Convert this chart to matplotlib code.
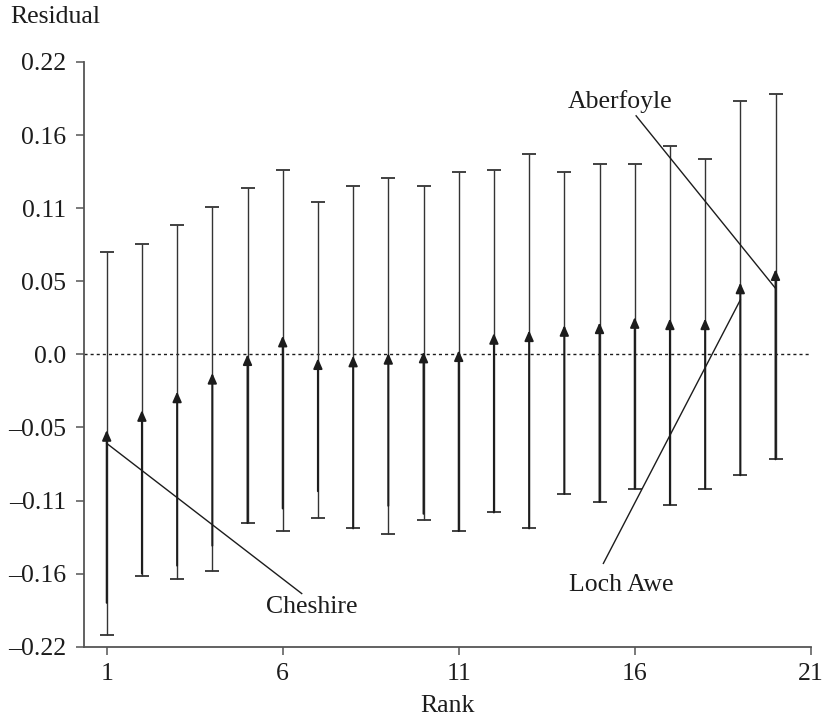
import numpy as np
import matplotlib
matplotlib.use("Agg")
import matplotlib.pyplot as plt

plt.rcParams["font.family"] = ["Liberation Serif", "DejaVu Serif"]

# residual intervals per lake, ordered by rank
rank = np.arange(1, 21)
upper = [0.077, 0.083, 0.097, 0.111, 0.125, 0.139, 0.115, 0.127, 0.133, 0.127,
         0.137, 0.139, 0.151, 0.137, 0.143, 0.143, 0.157, 0.147, 0.191, 0.196]
resid = [-0.057, -0.042, -0.028, -0.014, 0.000, 0.014, -0.003, -0.001, 0.001, 0.002,
         0.003, 0.016, 0.018, 0.022, 0.024, 0.028, 0.027, 0.027, 0.054, 0.064]
lower = [-0.211, -0.167, -0.169, -0.163, -0.127, -0.133, -0.123, -0.131, -0.135, -0.125,
         -0.133, -0.119, -0.131, -0.105, -0.111, -0.101, -0.113, -0.101, -0.091, -0.079]
shaft_from = [-0.187, -0.165, -0.159, -0.144, -0.127, -0.116, -0.103, -0.131, -0.114, -0.120,
              -0.133, -0.119, -0.131, -0.105, -0.111, -0.101, -0.113, -0.101, -0.091, -0.079]

yticks = np.linspace(-0.22, 0.22, 9)
ytick_labels = ["\u20130.22", "\u20130.16", "\u20130.11", "\u20130.05", "0.0",
                "0.05", "0.11", "0.16", "0.22"]
xticks = [1, 6, 11, 16, 21]

# labelled lakes: name, rank, anchor value, text-end of leader, text centre
labels = [
    ("Cheshire", 1, -0.067, (6.54, -0.180), (6.83, -0.1905)),
    ("Aberfoyle", 20, 0.0497, (16.04, 0.1795), (15.58, 0.190)),
    ("Loch Awe", 19, 0.0409, (15.11, -0.1573), (15.63, -0.1736)),
]

fig = plt.figure(figsize=(8.25, 7.19), dpi=100)
ax = fig.add_axes([84 / 825, 1 - 646.7 / 719, (810.7 - 84) / 825, (646.7 - 62) / 719])

ink = "#1c1c1c"
fs = 18.5

ax.axhline(0, color=ink, lw=1.0, ls=(0, (2.2, 2.2)), zorder=1)

lo_err = np.array(resid) - np.array(lower)
hi_err = np.array(upper) - np.array(resid)
ax.errorbar(rank, resid, yerr=[lo_err, hi_err], fmt="none", ecolor="#333333",
            elinewidth=1.0, capsize=5, capthick=1.3, zorder=2)

# arrow shafts ending at each residual
for r, y0, y1 in zip(rank, shaft_from, resid):
    ax.annotate("", xy=(r, y1), xytext=(r, y0),
                arrowprops=dict(arrowstyle="-|>,head_length=0.5,head_width=0.22",
                                color=ink, lw=1.4, shrinkA=0, shrinkB=0,
                                mutation_scale=12),
                zorder=3)

for name, r, yv, (lx, ly), (tx, ty) in labels:
    ax.plot([lx, r], [ly, yv], color=ink, lw=1.0, zorder=4)
    ax.text(tx, ty, name, ha="center", va="center", fontsize=fs, color=ink)

ax.set_xlim(0.355, 21)
ax.set_ylim(-0.22, 0.22)
ax.set_yticks(yticks)
ax.set_yticklabels(ytick_labels)
ax.set_xticks(xticks)

for side in ["top", "right"]:
    ax.spines[side].set_visible(False)
for side in ["left", "bottom"]:
    ax.spines[side].set_color("#555555")
    ax.spines[side].set_linewidth(1.3)

ax.tick_params(axis="y", length=6, width=1.1, color="#555555", pad=7,
               labelsize=fs, labelcolor=ink)
ax.tick_params(axis="x", length=6, width=1.1, color="#555555", pad=6,
               labelsize=fs, labelcolor=ink)

ax.set_xlabel("Rank", fontsize=fs, color=ink, labelpad=7)
fig.text(10 / 825, 1 - 17 / 719, "Residual", ha="left", va="center",
         fontsize=fs, color=ink)

fig.savefig("out.png", dpi=100)
